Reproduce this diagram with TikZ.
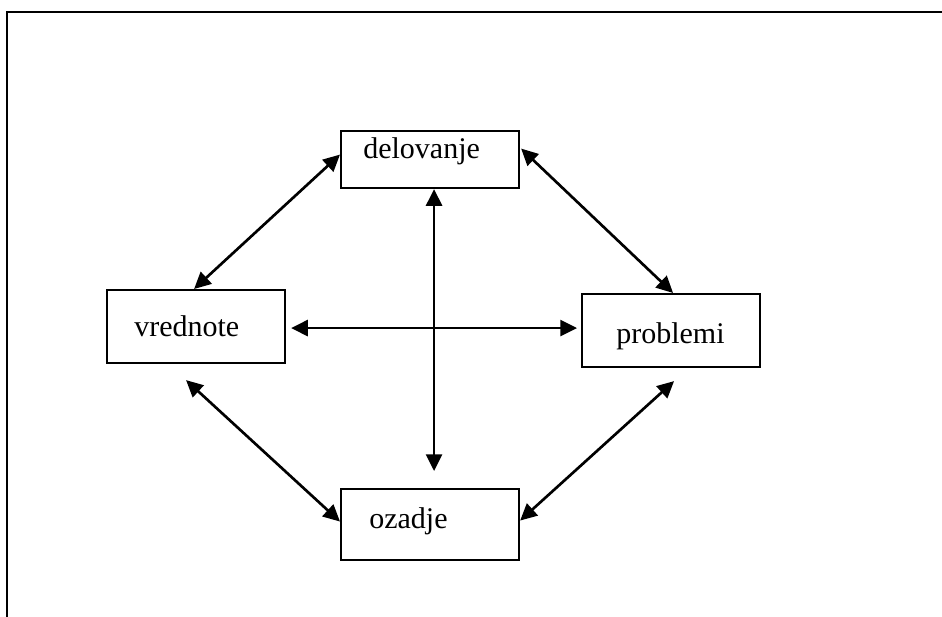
\documentclass[tikz,border=0pt]{standalone}
\usepackage{fontspec}
\setmainfont{Liberation Serif}
\usetikzlibrary{arrows.meta,calc}
\begin{document}
\begin{tikzpicture}[x=0.75pt,y=-0.75pt,
  box/.style={draw=black,line width=1.6pt,minimum width=133.5pt,minimum height=#1,inner sep=0pt,anchor=north west},
  lbl/.style={anchor=base west,inner sep=0pt,font=\fontsize{22.5pt}{26pt}\selectfont},
  link/.style={line width=2pt,{Triangle[length=12.5pt,width=12pt]}-{Triangle[length=12.5pt,width=12pt]}},
  frame/.style={line width=1.7pt}]
\useasboundingbox (0,0) rectangle (942,617);
\draw[frame] (7,617) -- (7,12) -- (942,12);
\node[box=42.75pt] (dl) at (340,130) {};
\node[box=54.75pt] (vr) at (106,289) {};
\node[box=54.75pt] (pr) at (581,293) {};
\node[box=53.25pt] (oz) at (340,488) {};
\node[lbl] (tdl) at (363,158) {delovanje};
\node[lbl] (tvr) at (134,336) {vrednote};
\node[lbl] (tpr) at (616,343) {problemi};
\node[lbl] (toz) at (369,528) {ozadje};
\draw[link] ($(dl.west)+(0,-5)$) -- ($(vr.north)+(-2,0)$);
\draw[link] ($(dl.east)+(1,-11)$) -- ($(pr.north)+(2,0)$);
\draw[link] ($(dl.south)+(4,0)$) -- ($(oz.north)+(4,-17)$);
\draw[link] ($(vr.east)+(5,1.5)$) -- ($(pr.west)+(-4,-2.5)$);
\draw[link] ($(vr.south)+(-10,16)$) -- ($(oz.west)+(0,-3)$);
\draw[link] ($(pr.south)+(3,13)$) -- ($(oz.east)+(0,-4)$);
\end{tikzpicture}
\end{document}
